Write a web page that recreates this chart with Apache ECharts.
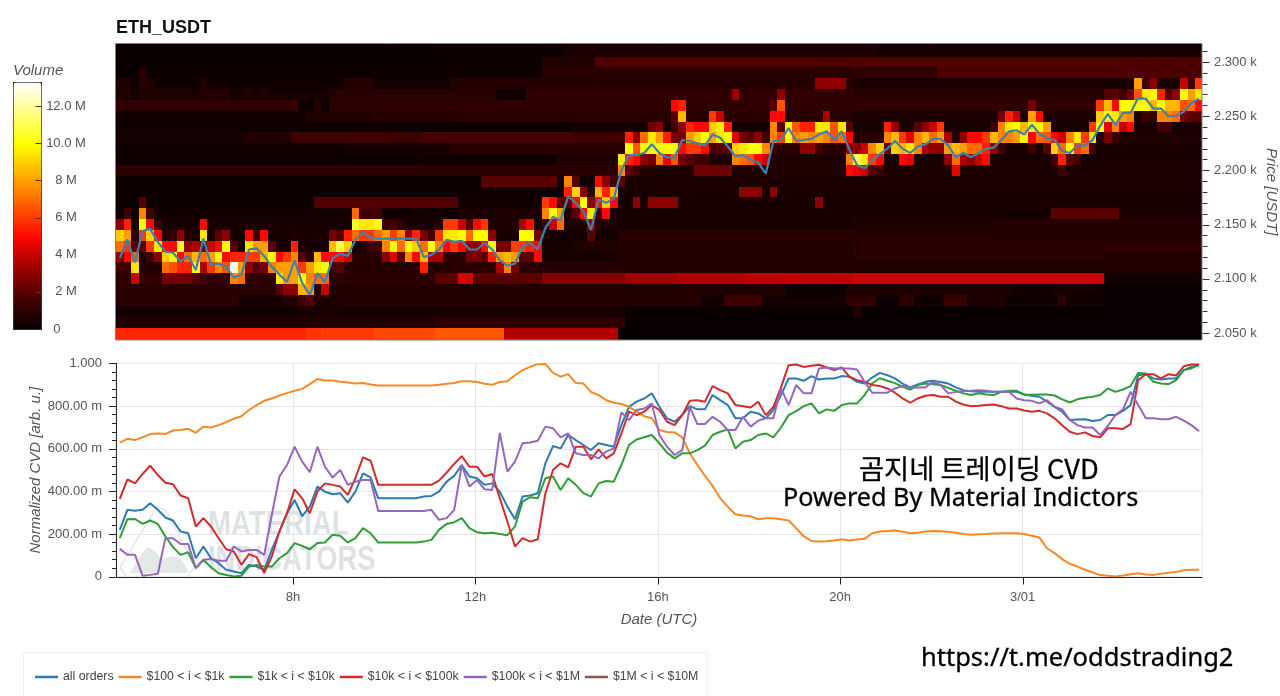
<!DOCTYPE html>
<html><head><meta charset="utf-8">
<style>html,body{margin:0;padding:0;background:#fff}#c{width:1280px;height:696px}</style>
<script src="https://cdn.jsdelivr.net/npm/echarts@6/dist/echarts.min.js"></script>
</head><body><div id="c"></div>
<script>
// ---------- values ----------
const startHour = 4.118, endHour = 27.934, colCount = 143;
const priceMin = 2043.5, priceMax = 2317, rowBottomPrice = 2050, rowStep = 10;
const timeTicks = [8, 12, 16, 20, 24];
const priceLabels = [2050, 2100, 2150, 2200, 2250, 2300];
const priceMinor = [2060,2070,2080,2090,2110,2120,2130,2140,2160,2170,2180,2190,2210,2220,2230,2240,2260,2270,2280,2290,2310];
const volumeTicks = [2, 4, 6, 8, 10, 12];

// background volume (M) of each price row, bottom row first: [first column, value] runs
const bgRows = [
 [[0,5.6],[25,5.9],[27,6],[34,6.3],[42,6.6],[51,3.6],[66,.05]],
 [[0,.7],[42,1.1],[67,.05]],
 [[0,.3],[24,.5],[67,.15],[97,.7],[98,.05]],
 [[0,1],[16,.4],[22,.8],[24,1.6],[26,.6],[30,.8],[77,.3],[80,1.4],[85,.4],[96,1.1],[100,.15],[103,1],[105,.3],[109,1.3],[112,.6],[117,.25],[124,1],[125,.3],[130,.05]],
 [[0,.9],[27,.8],[42,.7],[88,.2],[96,.6],[118,.3],[123,.5],[129,.3],[130,.05]],
 [[0,1.1],[28,1],[42,2],[45,4.2],[47,2],[56,2.8],[67,3.3],[74,3.6],[83,3.8],[97,4.1],[130,.4]],
 [[0,.8],[21,.5],[28,.8],[44,1],[56,.8],[97,.7]],
 [[0,.9],[56,.5],[66,.7],[97,.9],[130,.7]],
 [[0,.5],[56,.4],[60,.7],[66,.8],[97,1]],
 [[0,.5],[56,.4],[66,.9],[97,.8]],
 [[0,.5],[45,.6],[66,.5],[97,.6],[116,.8]],
 [[0,.3],[45,.6],[66,.5],[123,2],[132,.6]],
 [[0,.15],[26,1.9],[45,.3],[66,.4],[68,3],[69,.5],[70,3],[74,.5],[92,3],[93,.5]],
 [[0,.15],[41,.2],[66,.5],[82,3],[85,.5],[86,3],[87,.5]],
 [[0,.15],[35,.2],[48,2],[58,.3],[66,.6]],
 [[0,1],[66,.8],[71,.6],[76,2.4],[81,.7],[97,.6]],
 [[0,.15],[40,.3],[58,.6],[97,.5]],
 [[0,.3],[30,.5],[44,.9],[97,.5]],
 [[0,.4],[17,.7],[23,1.5],[36,1.3],[40,1.6],[60,1.5],[97,.8],[130,.6]],
 [[0,.25],[60,.4],[97,.5]],
 [[0,.3],[25,.7],[34,.8],[44,.9],[97,.6]],
 [[0,1.1],[23,1.3],[24,.2],[26,.9],[27,.2],[28,.9],[29,1.1]],
 [[0,.7],[2,.3],[3,.7],[10,.5],[11,.8],[15,.4],[17,.7],[18,.4],[19,.7],[20,.5],[28,.7],[29,.9],[50,.3],[54,1.1],[81,3.2],[82,1.1],[97,.9]],
 [[0,.6],[2,.3],[3,.8],[5,.3],[11,.7],[12,.3],[30,.8],[34,.4],[44,.8],[92,3],[96,.9],[97,.5]],
 [[0,.1],[3,.9],[4,.15],[44,.2],[56,.9],[97,1.1],[108,1.8]],
 [[0,.1],[44,.2],[56,.7],[63,1.8]],
 [[0,.1],[42,.2],[59,.6],[100,.5]],
 [[0,.2],[56,.5]]
];
// hot band per column: [lowest row, volume (M) upward from that row]
const hotBand = [
[6,1.5,3,7,9,3],[6,1.5,5,6,8,5.5,1.5],[4,1,4,9.5,7,2,.8],[7,.3,2,6,10,7.5,2],[7,1.5,6,9,5,1.5],[7,3,9.5,5,1.5],[5,2.5,7,9,5,.8],[5,2.5,6.5,10,5,1.2],[5,2.5,5.5,5,10.5,3],[5,2.5,5.5,7,3,1],
[5,2,10,8.5,3.5],[5,1.5,3.5,7,2.5,9.5,5],[6,6,8,4],[6,7.5,10,5,2],[6,6.5,5,10,3],[5,7.5,13,5.5,2],[5,7,8,5.5],[6,3,6,9.5,5],[6,2,6,8,1.5],[6,2.5,8.5,8,5],
[6,7.5,10,2],[4,2,9.5,8,5],[4,3,8,8,6],[4,3,8,8,7.5,5.5,.6],[3,1.5,8.5,10,6,2],[3,2,8,7.5,8],[5,7,9.5,8.5],[4,4,7,10,5],[6,1.5,5,8.5,2.5],[6,2,5,11,2],
[6,1,4,9,5.5],[9,7,10.5,7],[9,6,9.5,1.5],[8,1.5,6,9.5,1.5],[8,1.5,7,10,1.5],[7,3,7.5,8,1.5],[7,4.5,10,6,1.5],[7,2,7,7.5,1],[7,7.5,10,3],[7,5,9,5.5],
[6,5.5,8.5,7,2.5],[7,3.5,10,1.5],[7,3.5,7.5,6,.8],[7,1,5,9.5,6],[7,1,6,9.5,6],[7,1,5,10,4],[7,2.5,3,7,2],[7,2.5,3,10,5],[7,2,5,10,6],[7,5.5,10,3],
[6,3.5,8,2.5],[5,2,7.5,8.5,2.5],[6,2.5,8,6],[7,2,6,10,3.5],[7,2,5.5,10,5],[7,5,5,2.5],[10,1.5,7.5,6],[10,4,10,5],[10,7,8,2],[12,2,5.5,7.5],
[11,2,5,9,2],[11,5,10,3],[9,2,3,9.5,3,1],[11,1.5,5,8.5,5],[11,5,9,5.5,3],[12,5,8.5,1.5],[14,2,7.5,9.5],[15,2,5.5,10,5.5],[15,1.5,5,6.5,3],[16,3,10,7],
[16,2.5,10,9.5,2.5],[16,7.5,10,8,3],[16,4.5,10,5.5],[16,6.5,10,2.5,1.5,2,5],[16,2.5,5,2.5,3,8.5,5.5],[16,2,6,8,5.5],[16,1.5,6,9,5],[16,1.5,5,10,5],[17,1.5,8,9,6],[17,2,9.5,9.5,4],
[17,2,10,5.5],[16,7.5,9,4.5],[16,7,9.5,2.5],[16,6.5,10,2],[16,5,10,3],[16,4,7.5,1.5],[17,1.5,7.5,7.5,5,2],[18,6,2,5,6.5,3],[18,10,10],[18,7.5,6.5],
[17,3,8,5.5],[17,3,7.5,5.5],[17,1.5,8,9.5],[18,7.5,9.5,3.5],[18,6.5,6.5],[18,7,9.5],[15,5,7.5,3,5,2],[15,4.5,11,3],[15,4,9.5,4],[15,2,6,7.5],
[15,1.5,5,9],[17,2,7.5,5.5],[17,9,8.5,3],[16,5,8.5,6],[16,4.5,9.5,4.5],[17,7.5,7.5,2],[17,3.5,8.5,3],[17,3,7,4],[17,3,8,6],[16,3,8,3.5],
[15,4.5,7,8.5],[16,3.5,8,3],[16,3,7,5],[16,4,7,5],[16,5,5.5,6],[17,3,8.5,1.5],[17,1.5,7.5,7.5,2.5],[18,7.5,9.5,5.5],[18,8,10,4],[18,10,8.5],
[17,1.5,5,10,8,2.5],[18,7,10,5],[17,2,6.5,8],[16,1.5,9,5],[15,1.5,5.5,7,4],[16,2,10,7.5],[16,1.5,6,9.5],[17,7,6],[17,1.5,9.5,6],[19,10,9,6],
[18,2.5,4.5,10,8.5,2],[18,1.5,7.5,9.5,5,2],[19,4,8,10,1.5],[19,5,7.5,10,2.5],[21,10,6.5,8],[20,1.5,10,9.5,1.5],[20,1,8.5,10,3],[19,1.5,7.5,10,5.5],[19,1.5,7.5,8.5,2],[20,7,8.5,3],
[20,2.5,6.5,10,4],[20,2,7,8,1.5],[20,2,5,9.5,6]
];
const priceLine = [2119,2136,2115,2144,2146,2134,2125,2124,2116,2121,2108,2137,2113,2114,2111,2101,2104,2127,2128,2121,2111,2104,2097,2117,2096,2085,2105,2097,2119,2123,2121,2136,2143,2138,2137,2137,2137,2137,2137,2137,2120,
2122,2127,2136,2134,2135,2127,2127,2133,2127,2117,2112,2114,2130,2133,2127,2147,2157,2154,2176,2170,2162,2145,2173,2170,2174,2200,2214,2214,2216,2224,2216,2212,2212,2228,2227,2225,2223,2233,2230,2222,2213,2214,2210,2207,2197,2227,2228,2239,2227,2228,2229,2233,2236,2228,2236,2219,2205,
2202,2209,2215,2220,2227,2220,2216,2222,2224,2229,2229,2223,2212,2216,2212,2216,2220,2221,2228,2236,2237,2233,2242,2234,2229,2228,2218,2216,2223,2223,2228,2241,2252,2242,2253,2253,2267,2266,2257,2257,2250,2250,2254,2262,2266];

// normalized CVD, milli-units
const cvdAll = [220,314,310,314,345,314,278,264,212,204,87,142,87,64,33,25,17,56,48,33,126,212,298,360,285,329,423,399,387,392,348,399,485,466,368,368,368,368,368,368,376,
379,399,446,473,524,470,462,431,438,399,329,270,376,381,392,532,613,602,665,641,618,594,626,618,610,711,797,821,836,860,797,743,727,758,800,785,785,852,828,805,743,743,774,766,743,782,852,930,930,919,941,925,930,930,941,938,914,
906,934,956,945,930,906,888,902,914,919,913,906,888,875,870,867,867,867,867,867,867,855,849,844,821,797,774,735,738,739,730,735,758,758,778,805,945,950,930,925,930,930,969,984,992];
const cvd100 = [629,647,641,654,669,672,669,686,688,694,675,704,700,711,725,741,753,782,805,825,836,850,861,872,881,903,927,920,920,914,911,906,909,902,897,897,897,897,897,897,897,
897,900,905,909,917,917,913,905,900,913,917,945,969,984,997,998,956,938,950,909,906,867,852,828,816,810,797,774,753,743,688,679,677,654,579,524,473,426,368,329,293,287,284,270,275,275,270,264,228,189,168,165,167,170,176,170,175,
178,204,212,215,217,211,204,207,212,215,214,211,206,201,197,200,201,203,204,204,204,201,192,184,134,111,83,61,48,33,20,8,5,2,6,12,17,11,9,14,19,23,31,33,33];
const cvd1k = [181,270,271,248,264,248,189,139,103,115,41,80,45,17,8,2,5,48,56,48,48,87,111,158,145,129,158,161,197,192,161,181,228,204,161,161,161,161,161,161,165,
173,220,248,256,275,228,209,204,207,201,195,236,353,373,368,462,470,407,462,431,392,376,438,449,446,524,618,644,654,665,626,582,555,579,579,594,615,665,680,691,602,633,641,665,672,654,700,758,777,800,813,766,785,778,805,813,813,
852,906,931,919,908,891,878,899,906,903,899,886,872,860,852,860,855,852,867,872,872,855,853,855,855,850,832,817,832,839,844,852,883,867,878,894,956,953,914,906,903,922,969,977,995];
const cvd10k = [365,457,438,482,521,477,441,434,381,368,236,275,236,181,129,119,56,106,92,17,95,212,298,410,368,298,399,438,431,423,384,462,560,544,431,431,431,431,431,431,431,
431,451,488,529,566,516,516,470,482,368,259,142,181,165,176,392,501,532,513,610,610,551,597,555,579,672,774,758,774,805,782,727,711,758,825,828,821,894,875,860,805,800,794,821,758,797,888,992,995,984,989,994,981,969,981,938,922,
914,899,894,883,863,836,816,836,849,852,844,844,821,808,800,802,805,808,800,789,789,780,774,778,766,743,711,680,669,677,660,654,696,696,693,716,922,950,950,930,950,944,987,995,995];
const cvd100k = [131,103,103,5,9,14,181,181,154,154,41,80,83,75,75,142,119,126,126,103,290,470,524,610,540,490,610,516,465,501,431,446,454,454,309,309,309,309,309,309,309,
314,267,275,314,524,423,454,410,407,675,493,540,626,630,638,704,696,654,672,579,571,571,555,587,602,771,735,782,789,813,665,610,571,594,797,716,716,750,727,688,688,750,704,732,743,743,883,805,899,860,860,977,981,977,977,977,972,
914,863,863,863,883,894,888,888,888,914,899,860,867,870,872,875,872,867,867,867,836,828,825,813,828,797,785,735,711,700,700,665,707,758,785,867,805,743,743,739,739,750,732,711,683];
const cvd1M = [];

const seriesNames = ['all orders','$100 < i < $1k','$1k < i < $10k','$10k < i < $100k','$100k < i < $1M','$1M < i < $10M'];
const seriesColors = ['#2c7bb0','#f58a25','#2f9e37','#d22a2d','#9467bd','#8c564b'];
const cvdSets = [cvdAll, cvd100, cvd1k, cvd10k, cvd100k, cvd1M];
const hotStops = ['#060000','#460000','#a00000','#ff0700','#ff5a00','#ffae00','#ffff00','#ffff80','#ffffff'];
const volumeTop = 13.3;

// ---------- build ----------
const colHour = Array.from({length: colCount}, (_, i) => startHour + (i + .5) / 6);
const colHalf = 1 / 12;
const heat = [];
bgRows.forEach((runs, k) => {
  for (let i = 0; i < colCount; i++) {
    let v = 0;
    for (const r of runs) if (i >= r[0]) v = r[1];
    heat.push([colHour[i], rowBottomPrice + rowStep * k, v]);
  }
});
hotBand.forEach((c, i) => { for (let j = 1; j < c.length; j++) heat[(c[0] + j - 1) * colCount + i][2] = c[j]; });
const pair = arr => arr.map((v, i) => [colHour[i], v]);

function cellRender(params, api) {
  const h = api.value(0), p = api.value(1), cs = params.coordSys;
  const lowP = p === rowBottomPrice ? priceMin : p - rowStep / 2;
  const a = api.coord([h - colHalf, lowP]), b = api.coord([h + colHalf, p + rowStep / 2]);
  const x0 = Math.round(Math.max(a[0], cs.x)), x1 = Math.round(Math.min(b[0], cs.x + cs.width));
  const y1 = Math.round(Math.min(a[1], cs.y + cs.height)), y0 = Math.round(Math.max(b[1], cs.y));
  return {type: 'rect', shape: {x: x0, y: y0, width: x1 - x0, height: y1 - y0}, style: {fill: api.visual('color')}};
}
// short tick marks placed on an axis through the axis scale
const tickRender = (valueAt, dx, dy, color) => (params, api) => {
  const c = api.coord(valueAt(api.value(0)));
  const x = Math.round(c[0]) + .5, y = Math.round(c[1]) + .5;
  return {type: 'line', shape: {x1: x, y1: y, x2: x + dx, y2: y + dy}, style: {stroke: color, lineWidth: 1}};
};
const tickSeries = (xi, yi, data, valueAt, dx, dy, color, z) => ({type: 'custom', xAxisIndex: xi, yAxisIndex: yi, data: data.map(v => [v]), silent: true, z,
  encode: {x: [], y: []}, renderItem: tickRender(valueAt, dx, dy, color)});

const txt = '#555', base = 'Liberation Sans';
const chart = echarts.init(document.getElementById('c'), null, {renderer: 'canvas'});
chart.setOption({
  animation: false,
  title: {text: 'ETH_USDT', left: 111, top: 14, textStyle: {fontSize: 18, fontWeight: 'bold', color: '#111', fontFamily: base}},
  grid: [
    {left: 116, width: 1086, top: 43.5, height: 296.5, outerBoundsMode: 'none'},
    {left: 116, width: 1086, top: 363.5, height: 213.3, show: true, borderColor: '#e6e6e6', borderWidth: 1, outerBoundsMode: 'none'},
    {left: 13, width: 28, top: 82, height: 247, outerBoundsMode: 'none'}
  ],
  xAxis: [
    {gridIndex: 0, type: 'value', show: false, min: startHour, max: endHour},
    {gridIndex: 1, type: 'value', min: startHour, max: endHour, name: 'Date (UTC)', nameLocation: 'middle', nameGap: 36, nameMoveOverlap: false,
     nameTextStyle: {fontStyle: 'italic', fontSize: 15, color: txt, fontFamily: base},
     axisLine: {onZero: false, lineStyle: {color: '#222', width: 1}},
     axisTick: {show: false, customValues: timeTicks},
     axisLabel: {customValues: timeTicks, margin: 14, fontSize: 13, color: txt, fontFamily: base, formatter: v => v === 24 ? '3/01' : v + 'h'},
     splitLine: {show: true, lineStyle: {color: '#e6e6e6'}}},
    {gridIndex: 2, type: 'value', show: false, min: 0, max: 1}
  ],
  yAxis: [
    {gridIndex: 0, type: 'value', position: 'right', min: priceMin, max: priceMax, name: 'Price [USDT]', nameLocation: 'middle', nameRotate: -90, nameGap: 62, nameMoveOverlap: false,
     nameTextStyle: {fontStyle: 'italic', fontSize: 15, color: txt, fontFamily: base},
     axisLine: {show: false}, splitLine: {show: false}, axisTick: {show: false, customValues: priceLabels},
     axisLabel: {customValues: priceLabels, margin: 12, fontSize: 13, color: txt, fontFamily: base, formatter: v => (v / 1000).toFixed(3) + ' k'}},
    {gridIndex: 1, type: 'value', min: 0, max: 1000, interval: 200, name: 'Normalized CVD [arb. u.]', nameLocation: 'middle', nameGap: 73, nameMoveOverlap: false,
     nameTextStyle: {fontStyle: 'italic', fontSize: 15, color: txt, fontFamily: base},
     axisLine: {show: true, lineStyle: {color: '#222'}},
     axisTick: {show: true, length: 7, lineStyle: {color: '#222'}},
     minorTick: {show: true, splitNumber: 5, length: 4, lineStyle: {color: '#222'}},
     splitLine: {show: true, lineStyle: {color: '#e6e6e6'}},
     axisLabel: {margin: 14, fontSize: 13, color: txt, fontFamily: base, formatter: v => v === 0 ? '0' : v === 1000 ? '1.000' : v.toFixed(2) + ' m'}},
    {gridIndex: 2, type: 'value', position: 'right', min: 0, max: volumeTop, interval: 2,
     axisLine: {show: false}, splitLine: {show: false}, axisTick: {show: false},
     axisLabel: {margin: 25, align: 'center', fontSize: 13, color: txt, fontFamily: base, showMaxLabel: false, formatter: v => v === 0 ? '0     ' : v >= 10 ? v.toFixed(1) + ' M' : v + ' M'}}
  ],
  visualMap: {type: 'continuous', seriesIndex: 0, dimension: 2, min: 0, max: volumeTop, left: 13, top: 82, itemWidth: 28, itemHeight: 247, padding: 0,
    calculable: false, hoverLink: false, showLabel: false, borderColor: '#111', borderWidth: 1, inRange: {color: hotStops}},
  legend: {left: 30, top: 666, itemWidth: 23, itemHeight: 2.5, itemGap: 5, icon: 'rect', data: seriesNames,
    textStyle: {fontSize: 12.3, color: '#444', fontFamily: base}},
  series: [
    {type: 'custom', xAxisIndex: 0, yAxisIndex: 0, data: heat, encode: {x: 0, y: 1}, dimensions: ['t', 'p', 'v'], renderItem: cellRender, silent: true, z: 1},
    {type: 'line', name: 'price', xAxisIndex: 0, yAxisIndex: 0, data: pair(priceLine), symbol: 'none', z: 5, lineStyle: {color: '#3f81ab', width: 2.2}, color: '#3f81ab'},
    tickSeries(0, 0, priceMinor, v => [endHour, v], 5, 0, '#333', 6),
    tickSeries(0, 0, priceLabels, v => [endHour, v], 7, 0, '#333', 6),
    tickSeries(1, 1, timeTicks, v => [v, 0], 0, 7, '#222', 6),
    tickSeries(2, 2, volumeTicks, v => [1, v], -6, 0, '#6a2a10', 8)
  ].concat(seriesNames.map((n, s) => ({type: 'line', name: n, xAxisIndex: 1, yAxisIndex: 1, data: pair(cvdSets[s]), symbol: 'none', color: seriesColors[s], lineStyle: {width: 2, color: seriesColors[s]}, z: 3 + s}))),
  graphic: {elements: [
    {type: 'polygon', z: 0, shape: {points: [[130,573],[142,553],[148,547],[156,552],[162,560],[172,556],[180,558],[188,570],[188,573]]}, style: {fill: '#e2e9e6'}},
    {type: 'polyline', z: 0, shape: {points: [[127,577],[120,567],[157,507],[166,510],[195,567],[187,577]]}, style: {stroke: '#e6e8e8', lineWidth: 1.5, fill: 'none'}},
    {type: 'text', z: 0, x: 208, y: 525, scaleX: .79, style: {text: 'MATERIAL', font: 'bold 35px "Liberation Sans"', fill: '#dfe2e4', textVerticalAlign: 'middle'}},
    {type: 'text', z: 0, x: 208, y: 560, scaleX: .78, style: {text: 'INDICATORS', font: 'bold 35px "Liberation Sans"', fill: '#dfe2e4', textVerticalAlign: 'middle'}},
    {type: 'rect', z: 51, shape: {x: 115.5, y: 43.5, width: 1086.5, height: 296.5}, style: {fill: 'none', stroke: '#808080', lineWidth: 1}},
    {type: 'rect', z: 0, shape: {x: 23.5, y: 652.5, width: 684, height: 60}, style: {fill: '#fff', stroke: '#f1f1f1', lineWidth: 1}},
    {type: 'text', z: 100, x: 13, y: 71, style: {text: 'Volume', font: 'italic 15px "Liberation Sans"', fill: txt, textVerticalAlign: 'middle'}},
    {type: 'text', z: 100, x: 859, y: 469, style: {text: '곰지네 트레이딩 CVD', font: '27.3px "Noto Sans CJK KR"', fill: '#000', stroke: '#000', lineWidth: .3, textVerticalAlign: 'middle'}},
    {type: 'text', z: 100, x: 783, y: 499, style: {text: 'Powered By Material Indictors', font: '25.2px "Noto Sans"', fill: '#000', stroke: '#000', lineWidth: .3, textVerticalAlign: 'middle'}},
    {type: 'text', z: 100, x: 921, y: 659, style: {text: 'https://t.me/oddstrading2', font: '25.5px "Noto Sans"', fill: '#000', stroke: '#000', lineWidth: .3, textVerticalAlign: 'middle'}}
  ]}
});
</script></body></html>
